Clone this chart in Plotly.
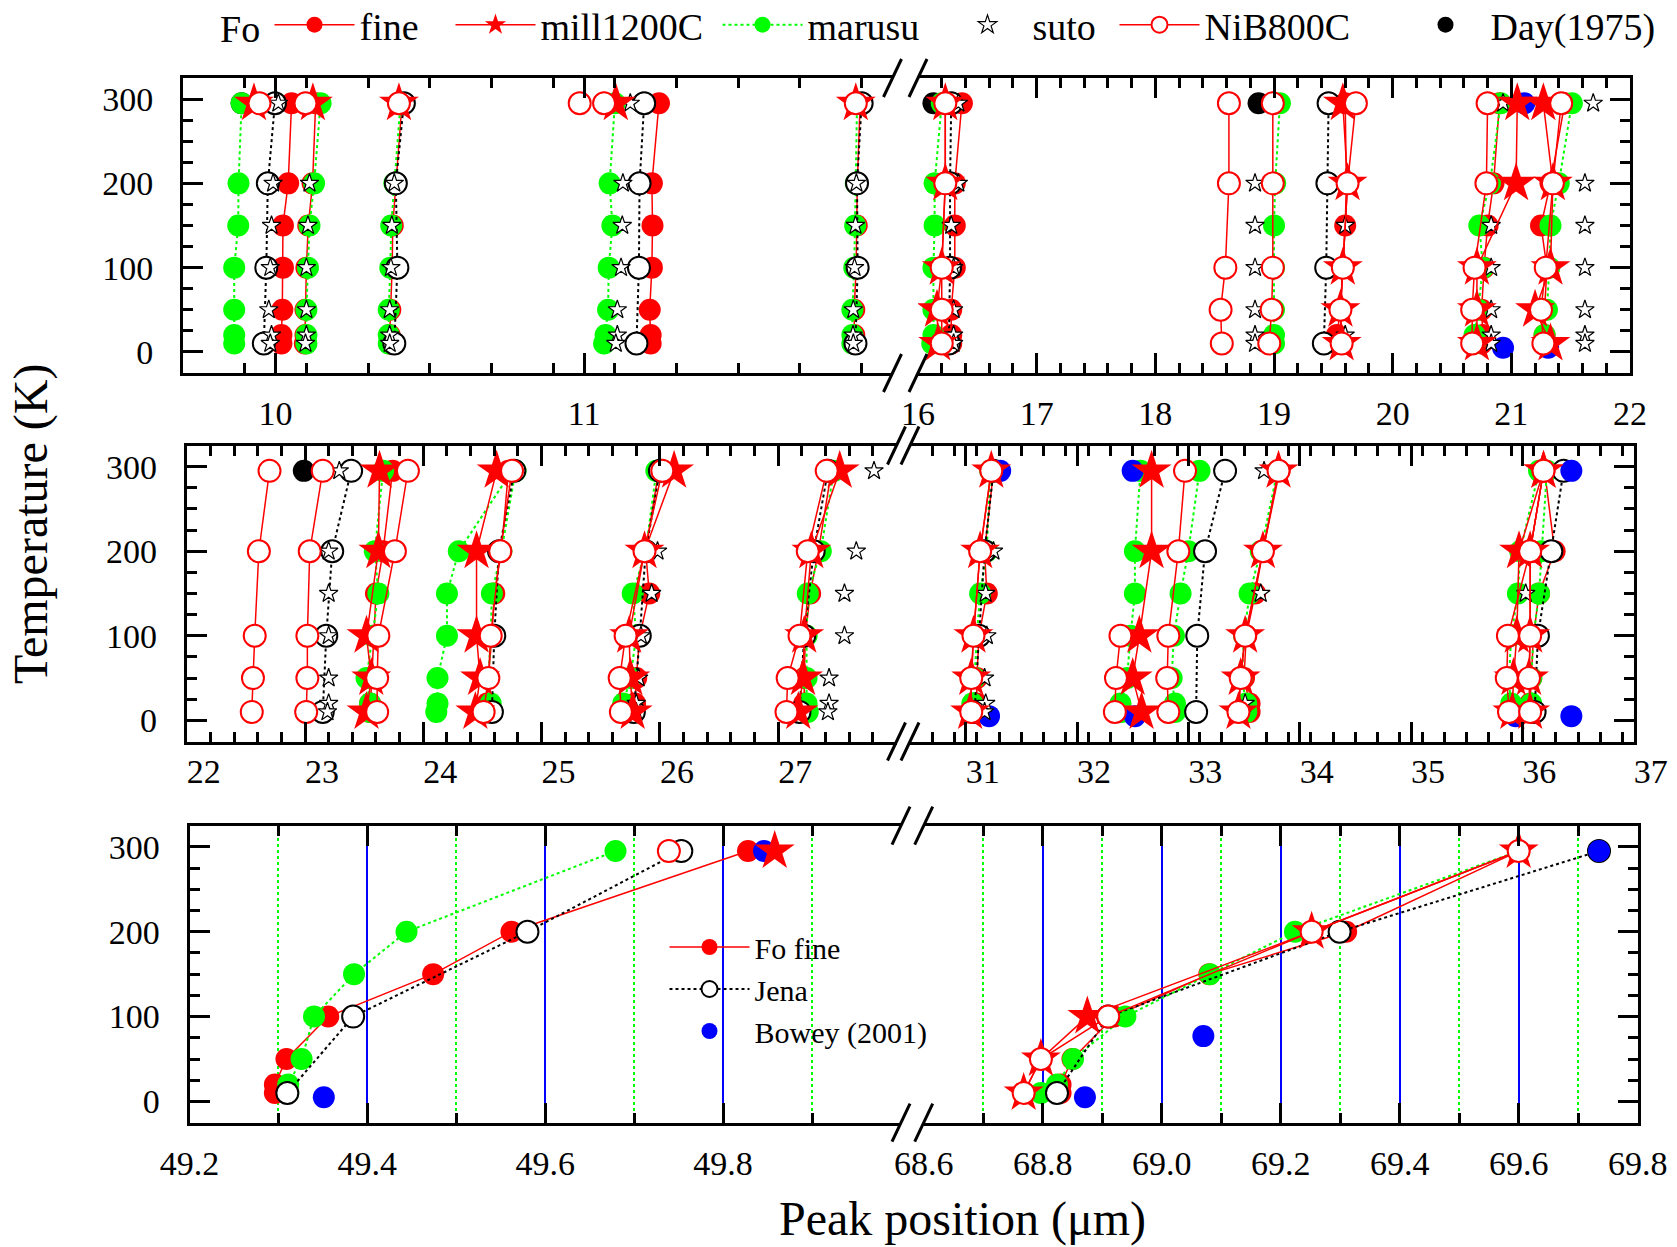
import plotly.graph_objects as go

W, H = 1677, 1247
FONT = "Liberation Serif"

# ---------------- data (peak positions in µm, temperatures in K) ----------------
T7 = [295, 200, 150, 100, 50, 20, 10]
T5 = [295, 200, 100, 50, 10]
T4 = [295, 200, 100, 10]

FINE_X = [
    [10.052, 10.041, 10.024, 10.024, 10.022, 10.019, 10.019],
    [10.13, 10.12, 10.106, 10.10, 10.097, 10.097, 10.095],
    [10.41, 10.39, 10.38, 10.378, 10.372, 10.37, 10.37],
    [11.243, 11.22, 11.222, 11.22, 11.213, 11.216, 11.216],
    [11.895, 11.886, 11.884, 11.882, 11.876, 11.876, 11.876],
    [16.37, 16.31, 16.31, 16.31, 16.28, 16.28, 16.28],
    [19.6, 19.61, 19.6, 19.58, 19.56, 19.53, 19.53],
    [20.9, 20.85, 20.8, 20.77, 20.75, 20.76, 20.75],
    [21.45, 21.33, 21.25, 21.3, 21.28, 21.28, 21.28],
    [23.74, 23.66, 23.6, 23.58, 23.56, 23.55, 23.55],
    [24.72, 24.66, 24.6, 24.58, 24.55, 24.54, 24.53],
    [25.99, 25.88, 25.91, 25.83, 25.8, 25.79, 25.78],
    [27.45, 27.34, 27.27, 27.23, 27.22, 27.22, 27.2],
    [31.25, 31.17, 31.19, 31.12, 31.1, 31.1, 31.08],
    [33.82, 33.67, 33.6, 33.52, 33.5, 33.55, 33.55],
    [36.2, 36.29, 36.15, 36.1, 36.08, 36.07, 36.08],
    [49.828, 49.562, 49.474, 49.356, 49.309, 49.296, 49.296],
    [69.60, 69.31, 69.08, 68.92, 68.85, 68.83, 68.83],
]

MARUSU_X = [
    [9.89, 9.88, 9.879, 9.866, 9.866, 9.866, 9.866],
    [10.146, 10.125, 10.11, 10.105, 10.1, 10.1, 10.1],
    [10.405, 10.385, 10.375, 10.372, 10.367, 10.367, 10.367],
    [11.1, 11.083, 11.092, 11.08, 11.078, 11.07, 11.065],
    [11.885, 11.881, 11.879, 11.876, 11.87, 11.87, 11.87],
    [16.2, 16.14, 16.14, 16.13, 16.13, 16.13, 16.12],
    [19.05, 19.01, 19.0, 19.0, 19.0, 19.0, 19.0],
    [20.91, 20.82, 20.73, 20.76, 20.72, 20.69, 20.69],
    [21.51, 21.4, 21.33, 21.32, 21.3, 21.28, 21.28],
    [23.66, 23.59, 23.62, 23.57, 23.52, 23.55, 23.55],
    [24.75, 24.3, 24.2, 24.2, 24.12, 24.12, 24.11],
    [24.78, 24.66, 24.58, 24.57, 24.55, 24.57, 24.58],
    [25.97, 25.88, 25.77, 25.8, 25.75, 25.69, 25.69],
    [27.47, 27.36, 27.25, 27.24, 27.24, 27.24, 27.25],
    [31.22, 31.19, 31.13, 31.1, 31.08, 31.06, 31.06],
    [32.57, 32.52, 32.52, 32.48, 32.45, 32.39, 32.4],
    [33.1, 33.0, 32.93, 32.87, 32.85, 32.88, 32.88],
    [33.8, 33.65, 33.55, 33.5, 33.48, 33.52, 33.52],
    [36.15, 35.98, 35.96, 35.9, 35.88, 35.9, 35.9],
    [36.22, 36.17, 36.15, 36.1, 36.08, 36.08, 36.08],
    [49.679, 49.444, 49.385, 49.34, 49.326, 49.311, 49.311],
    [69.6, 69.224, 69.081, 68.939, 68.851, 68.824, 68.797],
]

JENA_X = [
    [9.998, 9.975, 9.97, 9.962],
    [10.416, 10.39, 10.395, 10.385],
    [11.195, 11.18, 11.178, 11.17],
    [11.9, 11.885, 11.887, 11.88],
    [16.28, 16.27, 16.27, 16.26],
    [19.46, 19.45, 19.44, 19.42],
    [23.39, 23.23, 23.18, 23.15],
    [24.77, 24.64, 24.6, 24.58],
    [26.0, 25.88, 25.83, 25.78],
    [27.42, 27.3, 27.22, 27.18],
    [31.25, 31.17, 31.12, 31.08],
    [33.33, 33.15, 33.08, 33.07],
    [36.37, 36.26, 36.14, 36.11],
    [49.753, 49.58, 49.384, 49.31],
    [69.735, 69.299, 68.91, 68.824],
]

SUTO_X = [
    [10.009, 9.992, 9.987, 9.983, 9.978, 9.987, 9.983],
    [None, 10.11, 10.105, 10.1, 10.1, 10.1, 10.097],
    [None, 10.385, 10.377, 10.374, 10.37, 10.37, 10.37],
    [11.15, 11.126, 11.124, 11.12, 11.108, 11.108, 11.103],
    [None, 11.883, 11.88, 11.877, 11.873, 11.872, 11.873],
    [16.34, 16.34, 16.28, 16.3, 16.3, 16.3, 16.3],
    [None, 18.84, 18.84, 18.84, 18.84, 18.84, 18.84],
    [None, None, 19.6, None, None, 19.6, None],
    [20.93, None, 20.83, 20.83, 20.83, 20.83, 20.83],
    [21.69, 21.62, 21.62, 21.62, 21.62, 21.62, 21.62],
    [23.29, 23.2, 23.2, 23.2, 23.2, 23.2, 23.19],
    [None, 25.98, 25.93, 25.84, 25.82, 25.8, 25.8],
    [27.81, 27.66, 27.56, 27.56, 27.43, 27.43, 27.42],
    [None, 31.25, 31.18, 31.19, 31.17, 31.18, 31.17],
    [33.68, None, 33.65, None, None, 33.51, None],
    [None, None, 36.03, None, None, None, None],
]

MILL_X = [
    [9.93, None, None, None, None],
    [10.121, None, None, None, None],
    [10.40, None, None, None, None],
    [11.103, None, None, None, None],
    [11.881, None, None, None, None],
    [16.23, 16.23, 16.2, 16.16, 16.17],
    [19.58, 19.62, 19.58, 19.56, 19.57],
    [21.05, 21.04, 20.71, 20.71, 20.71],
    [21.27, 21.35, 21.33, 21.2, 21.33],
    [23.63, 23.62, 23.52, 23.56, 23.52],
    [24.62, 24.45, 24.45, 24.48, 24.44],
    [26.12, 25.87, 25.74, 25.75, 25.77],
    [27.52, 27.28, 27.22, 27.21, 27.17],
    [31.23, 31.13, 31.07, 31.05, 31.04],
    [32.67, 32.67, 32.56, 32.5, 32.58],
    [33.81, 33.67, 33.51, 33.47, 33.45],
    [36.19, 35.97, 35.95, 35.92, 35.91],
    [36.19, 36.07, 36.07, 36.06, 36.07],
    [49.858, None, None, None, None],
    [69.6, 69.252, 68.875, 68.797, 68.768],
]

NIB_X = [
    [9.948, None, None, None, None],
    [10.097, None, None, None, None],
    [10.40, None, None, None, None],
    [10.986, None, None, None, None],
    [11.065, None, None, None, None],
    [11.881, None, None, None, None],
    [16.23, 16.23, 16.2, 16.2, 16.2],
    [18.62, 18.62, 18.59, 18.55, 18.56],
    [18.99, 18.99, 18.99, 18.98, 18.96],
    [19.69, 19.62, 19.58, 19.56, 19.57],
    [20.8, 20.79, 20.69, 20.67, 20.67],
    [21.42, 21.35, 21.29, 21.25, 21.27],
    [22.7, 22.61, 22.575, 22.56, 22.55],
    [23.15, 23.04, 23.02, 23.02, 23.01],
    [23.87, 23.76, 23.62, 23.61, 23.61],
    [24.75, 24.65, 24.57, 24.55, 24.51],
    [26.02, 25.87, 25.71, 25.66, 25.67],
    [27.41, 27.25, 27.18, 27.08, 27.07],
    [31.23, 31.13, 31.07, 31.05, 31.05],
    [None, None, 32.39, 32.35, 32.34],
    [32.97, 32.91, 32.82, 32.81, 32.82],
    [33.81, 33.67, 33.51, 33.47, 33.45],
    [36.19, 36.07, 35.87, 35.86, 35.88],
    [36.19, 36.07, 36.07, 36.06, 36.07],
    [49.739, None, None, None, None],
    [69.6, 69.252, 68.91, 68.797, 68.768],
]

DAY_X = [9.89, 16.13, 18.87, 22.99]
DAY_T = [295, 295, 295, 295]

BOWEY_X = [21.11, 20.93, 21.31, 31.31, 31.21, 32.50, 32.52, 36.44, 36.44, 35.94,
           49.846, 49.351, 69.735, 69.07, 68.871]
BOWEY_T = [295, 5, 5, 295, 5, 295, 5, 295, 5, 5, 295, 5, 295, 77, 5]

Y_RANGE = [-25, 325]
Y_TICKS = [0, 100, 200, 300]
Y_MINOR = [-25, 25, 50, 75, 125, 150, 175, 225, 250, 275, 325]

# ---------------- layout geometry (pixels) ----------------
PANELS = [
    dict(ytop=78, ybot=373, shift=0, standoff=8, grid=False, fmt="d",
         left=dict(dom=(183, 892.5), rng=(9.7, 12.0), ticks=[10, 11], minor=0.2),
         right=dict(dom=(918, 1630), rng=(16, 22), ticks=[16, 17, 18, 19, 20, 21, 22], minor=0.2)),
    dict(ytop=445.5, ybot=741.5, shift=17, standoff=-2, grid=False, fmt="d",
         left=dict(dom=(186.7, 896.5), rng=(22, 28), ticks=[22, 23, 24, 25, 26, 27], minor=0.2),
         right=dict(dom=(910, 1633.7), rng=(30.5, 37), ticks=[31, 32, 33, 34, 35, 36, 37], minor=0.2)),
    dict(ytop=825.6, ybot=1122.7, shift=0, standoff=8, grid=True, fmt=".1f",
         left=dict(dom=(189.5, 901), rng=(49.2, 50.0), ticks=[49.2, 49.4, 49.6, 49.8], minor=0.1),
         right=dict(dom=(923.7, 1637.7), rng=(68.6, 69.8),
                    ticks=[68.6, 68.8, 69.0, 69.2, 69.4, 69.6, 69.8], minor=0.1)),
]


def fx(p):
    return p / W


def fy(p):
    return 1 - p / H


def minor_vals(lo, hi, step, majors):
    out = []
    n = int(round((hi - lo) / step))
    for k in range(n + 1):
        v = round(lo + k * step, 4)
        if all(abs(v - m) > 1e-6 for m in majors):
            out.append(v)
    return out


fig = go.Figure()
layout = dict(width=W, height=H, margin=dict(l=0, r=0, t=0, b=0, autoexpand=False),
              plot_bgcolor="white", paper_bgcolor="white",
              font=dict(family=FONT, color="black"))

TICKFONT = dict(family=FONT, size=34, color="black")
segments = []
shapes = []
idx = 0
for p in PANELS:
    for side in ("left", "right"):
        idx += 1
        s = p[side]
        suf = "" if idx == 1 else str(idx)
        segments.append(("x" + suf, "y" + suf, s["rng"]))
        xaxis = dict(
            domain=[fx(s["dom"][0]), fx(s["dom"][1])], range=list(s["rng"]),
            anchor="y" + suf, showline=True, linecolor="black", linewidth=3,
            mirror="ticks", ticks="inside", ticklen=20, tickwidth=3, tickcolor="black",
            tickmode="array", tickvals=s["ticks"], tickformat=p["fmt"],
            tickfont=TICKFONT, ticklabelstandoff=p["standoff"], ticklabelshift=p["shift"],
            zeroline=False, showgrid=p["grid"], gridcolor="#0000FF", gridwidth=1.5,
            minor=dict(ticks="inside", ticklen=10, tickwidth=3, tickcolor="black",
                       tickmode="array",
                       tickvals=minor_vals(s["rng"][0], s["rng"][1], s["minor"], s["ticks"]),
                       showgrid=p["grid"], gridcolor="#00FF00", griddash="dot", gridwidth=1.5),
        )
        yaxis = dict(
            domain=[fy(p["ybot"]), fy(p["ytop"])], range=Y_RANGE, anchor="x" + suf,
            side=side, showline=True, linecolor="black", linewidth=3, mirror=False,
            ticks="inside", ticklen=20, tickwidth=3, tickcolor="black",
            tickmode="array", tickvals=Y_TICKS, showticklabels=(side == "left"),
            tickfont=TICKFONT, ticklabelstandoff=20,
            zeroline=False, showgrid=False,
            minor=dict(ticks="inside", ticklen=10, tickwidth=3, tickcolor="black",
                       tickmode="array", tickvals=Y_MINOR),
        )
        layout["xaxis" + suf] = xaxis
        layout["yaxis" + suf] = yaxis
    # axis-break marks
    for xb in (p["left"]["dom"][1], p["right"]["dom"][0]):
        for yb in (p["ytop"], p["ybot"]):
            shapes.append(dict(type="line", xref="paper", yref="paper",
                               x0=fx(xb - 9), y0=fy(yb + 19), x1=fx(xb + 9), y1=fy(yb - 19),
                               line=dict(color="black", width=3), layer="above"))


def add_bands(bands, temps_list, name, marker, line, rank, legend="legend", lw=None, show=True):
    first = True
    for xa, ya, (lo, hi) in segments:
        xs, ys = [], []
        for band, temps in zip(bands, temps_list):
            vals = [v for v in band if v is not None]
            if lo <= vals[0] <= hi:
                for v, t in zip(band, temps):
                    if v is not None:
                        xs.append(v)
                        ys.append(t)
                xs.append(None)
                ys.append(None)
        if not xs:
            continue
        kw = dict(x=xs, y=ys, xaxis=xa, yaxis=ya, name=name, marker=marker,
                  mode="lines+markers" if line else "markers",
                  showlegend=show and first, legend=legend, legendrank=rank,
                  hoverinfo="skip", cliponaxis=True)
        if line:
            kw["line"] = line
        if lw:
            kw["legendwidth"] = lw
        fig.add_trace(go.Scatter(**kw))
        first = False


RED = "#FF0000"
GREEN = "#00FF00"
BLUE = "#0000FF"
MS = 22

add_bands([[x] for x in DAY_X], [[t] for t in DAY_T], "Day(1975)",
          dict(symbol="circle", size=MS, color="black"), None, 6, lw=167)
add_bands(FINE_X, [T7] * len(FINE_X), "fine",
          dict(symbol="circle", size=MS, color=RED),
          dict(color=RED, width=1.5), 1, lw=86)
add_bands(MARUSU_X, [T7] * len(MARUSU_X), "marusu",
          dict(symbol="circle", size=MS, color=GREEN),
          dict(color=GREEN, width=2, dash="dot"), 3, lw=130)
add_bands(JENA_X, [T4] * len(JENA_X), "Jena",
          dict(symbol="circle", size=MS, color="white", line=dict(color="black", width=2)),
          dict(color="black", width=2, dash="dot"), 2, legend="legend2")
add_bands([[x] for x in BOWEY_X], [[t] for t in BOWEY_T], "Bowey (2001)",
          dict(symbol="circle", size=MS, color=BLUE), None, 3, legend="legend2")
add_bands(SUTO_X, [T7] * len(SUTO_X), "suto",
          dict(symbol="star", size=14, color="white", line=dict(color="black", width=1.2)),
          None, 4, lw=77)
add_bands(MILL_X, [T5] * len(MILL_X), "mill1200C",
          dict(symbol="star", size=30, color=RED),
          dict(color=RED, width=1.5), 2, lw=172)
add_bands(NIB_X, [T5] * len(NIB_X), "NiB800C",
          dict(symbol="circle", size=MS, color="white", line=dict(color=RED, width=2)),
          dict(color=RED, width=1.5), 5, lw=191)

# legend-only entry for the inner legend
fig.add_trace(go.Scatter(x=[None], y=[None], xaxis="x5", yaxis="y5", name="Fo fine",
                         mode="lines+markers", marker=dict(symbol="circle", size=MS, color=RED),
                         line=dict(color=RED, width=1.5), legend="legend2", legendrank=1,
                         showlegend=True, hoverinfo="skip"))

layout["legend"] = dict(orientation="h", x=fx(269.5), y=fy(25), xanchor="left", yanchor="middle",
                        font=dict(family=FONT, size=38, color="black"), itemwidth=80,
                        bgcolor="rgba(0,0,0,0)", borderwidth=0)
layout["legend2"] = dict(orientation="v", x=fx(664.5), y=fy(921), xanchor="left", yanchor="top",
                         font=dict(family=FONT, size=30, color="black"), itemwidth=80,
                         bgcolor="rgba(0,0,0,0)", borderwidth=0, tracegroupgap=0)

layout["annotations"] = [
    dict(text="Fo", xref="paper", yref="paper", x=fx(240), y=fy(29), xanchor="center",
         yanchor="middle", showarrow=False, font=dict(family=FONT, size=38, color="black")),
    dict(text="Temperature (K)", xref="paper", yref="paper", x=fx(31), y=fy(524),
         xanchor="center", yanchor="middle",
         textangle=-90, showarrow=False, font=dict(family=FONT, size=48, color="black")),
    dict(text="Peak position (\u03bcm)", xref="paper", yref="paper", x=fx(962), y=fy(1219),
         xanchor="center", yanchor="middle",
         showarrow=False, font=dict(family=FONT, size=48, color="black")),
]
layout["shapes"] = shapes

fig.update_layout(**layout)
fig.write_html("out.html")
